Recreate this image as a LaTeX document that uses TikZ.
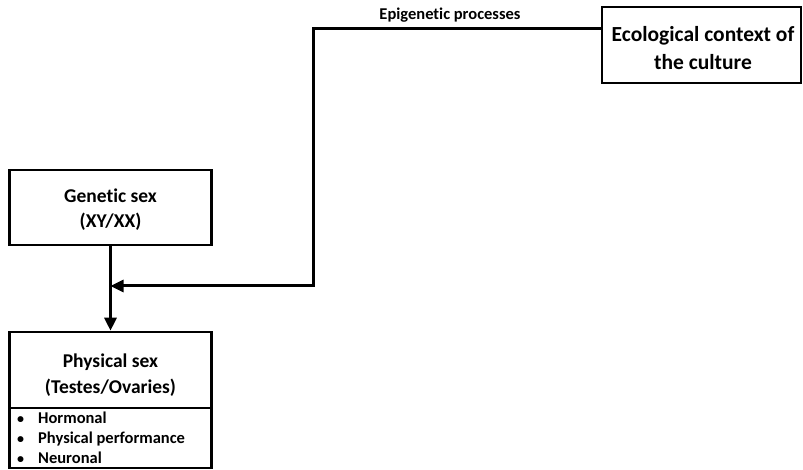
\documentclass[tikz,border=0pt]{standalone}
\usepackage{fontspec}
\setmainfont{Carlito}[Ligatures=NoCommon]
\usetikzlibrary{arrows.meta}
\begin{document}
\begin{tikzpicture}[x=1pt,y=-1pt,
  box/.style={draw,line width=2.6pt,inner sep=0pt},
  txt/.style={anchor=base,inner sep=0pt,font=\bfseries\fontsize{19.5}{24}\selectfont},
  item/.style={anchor=base west,inner sep=0pt,font=\bfseries\fontsize{16.5}{20}\selectfont},
  conn/.style={line width=3pt},
  tip/.style={-{Triangle[length=13pt,width=12pt]}}]
\useasboundingbox (0,0) rectangle (803,470);
% genetic sex box
\node[box,minimum width=202pt,minimum height=75pt] (gen) at (110.5,207.5) {};
\node[txt] (gen1) at (110.5,203) {Genetic sex};
\node[txt] (gen2) at (110.5,228) {(XY/XX)};
% physical sex box with its list compartment
\node[box,minimum width=202pt,minimum height=76pt] (phys) at (110.5,370) {};
\node[box,minimum width=202pt,minimum height=60pt] (list) at (110.5,438) {};
\node[txt] (phys1) at (110.5,367) {Physical sex};
\node[txt] (phys2) at (110.5,393) {(Testes/Ovaries)};
\foreach \name/\y/\t in {it1/423/Hormonal, it2/443/Physical performance, it3/463/Neuronal}{
  \node[item] (\name b) at (17,\y) {\scalebox{0.85}{•}};
  \node[item] (\name) at (38,\y) {\t};
}
% ecological context box
\node[box,minimum width=199pt,minimum height=76pt] (eco) at (701.5,45) {};
\node[txt,font=\bfseries\fontsize{21.5}{26}\selectfont] (eco1) at (703,42) {Ecological context of};
\node[txt,font=\bfseries\fontsize{21.5}{26}\selectfont] (eco2) at (703,70) {the culture};
% connectors
\coordinate (bendtop) at (313,29);
\coordinate (bendlow) at (313,286);
\coordinate (join) at (gen.south |- bendlow);
\draw[conn,tip] (gen.south) -- (phys.north);
\draw[conn,tip] (eco.west |- bendtop) -- (bendtop) -- (bendlow) -- (join);
\node[anchor=base,inner sep=0pt,font=\bfseries\fontsize{16.5}{20}\selectfont] (lab) at (450,20) {Epigenetic processes};
\end{tikzpicture}
\end{document}
